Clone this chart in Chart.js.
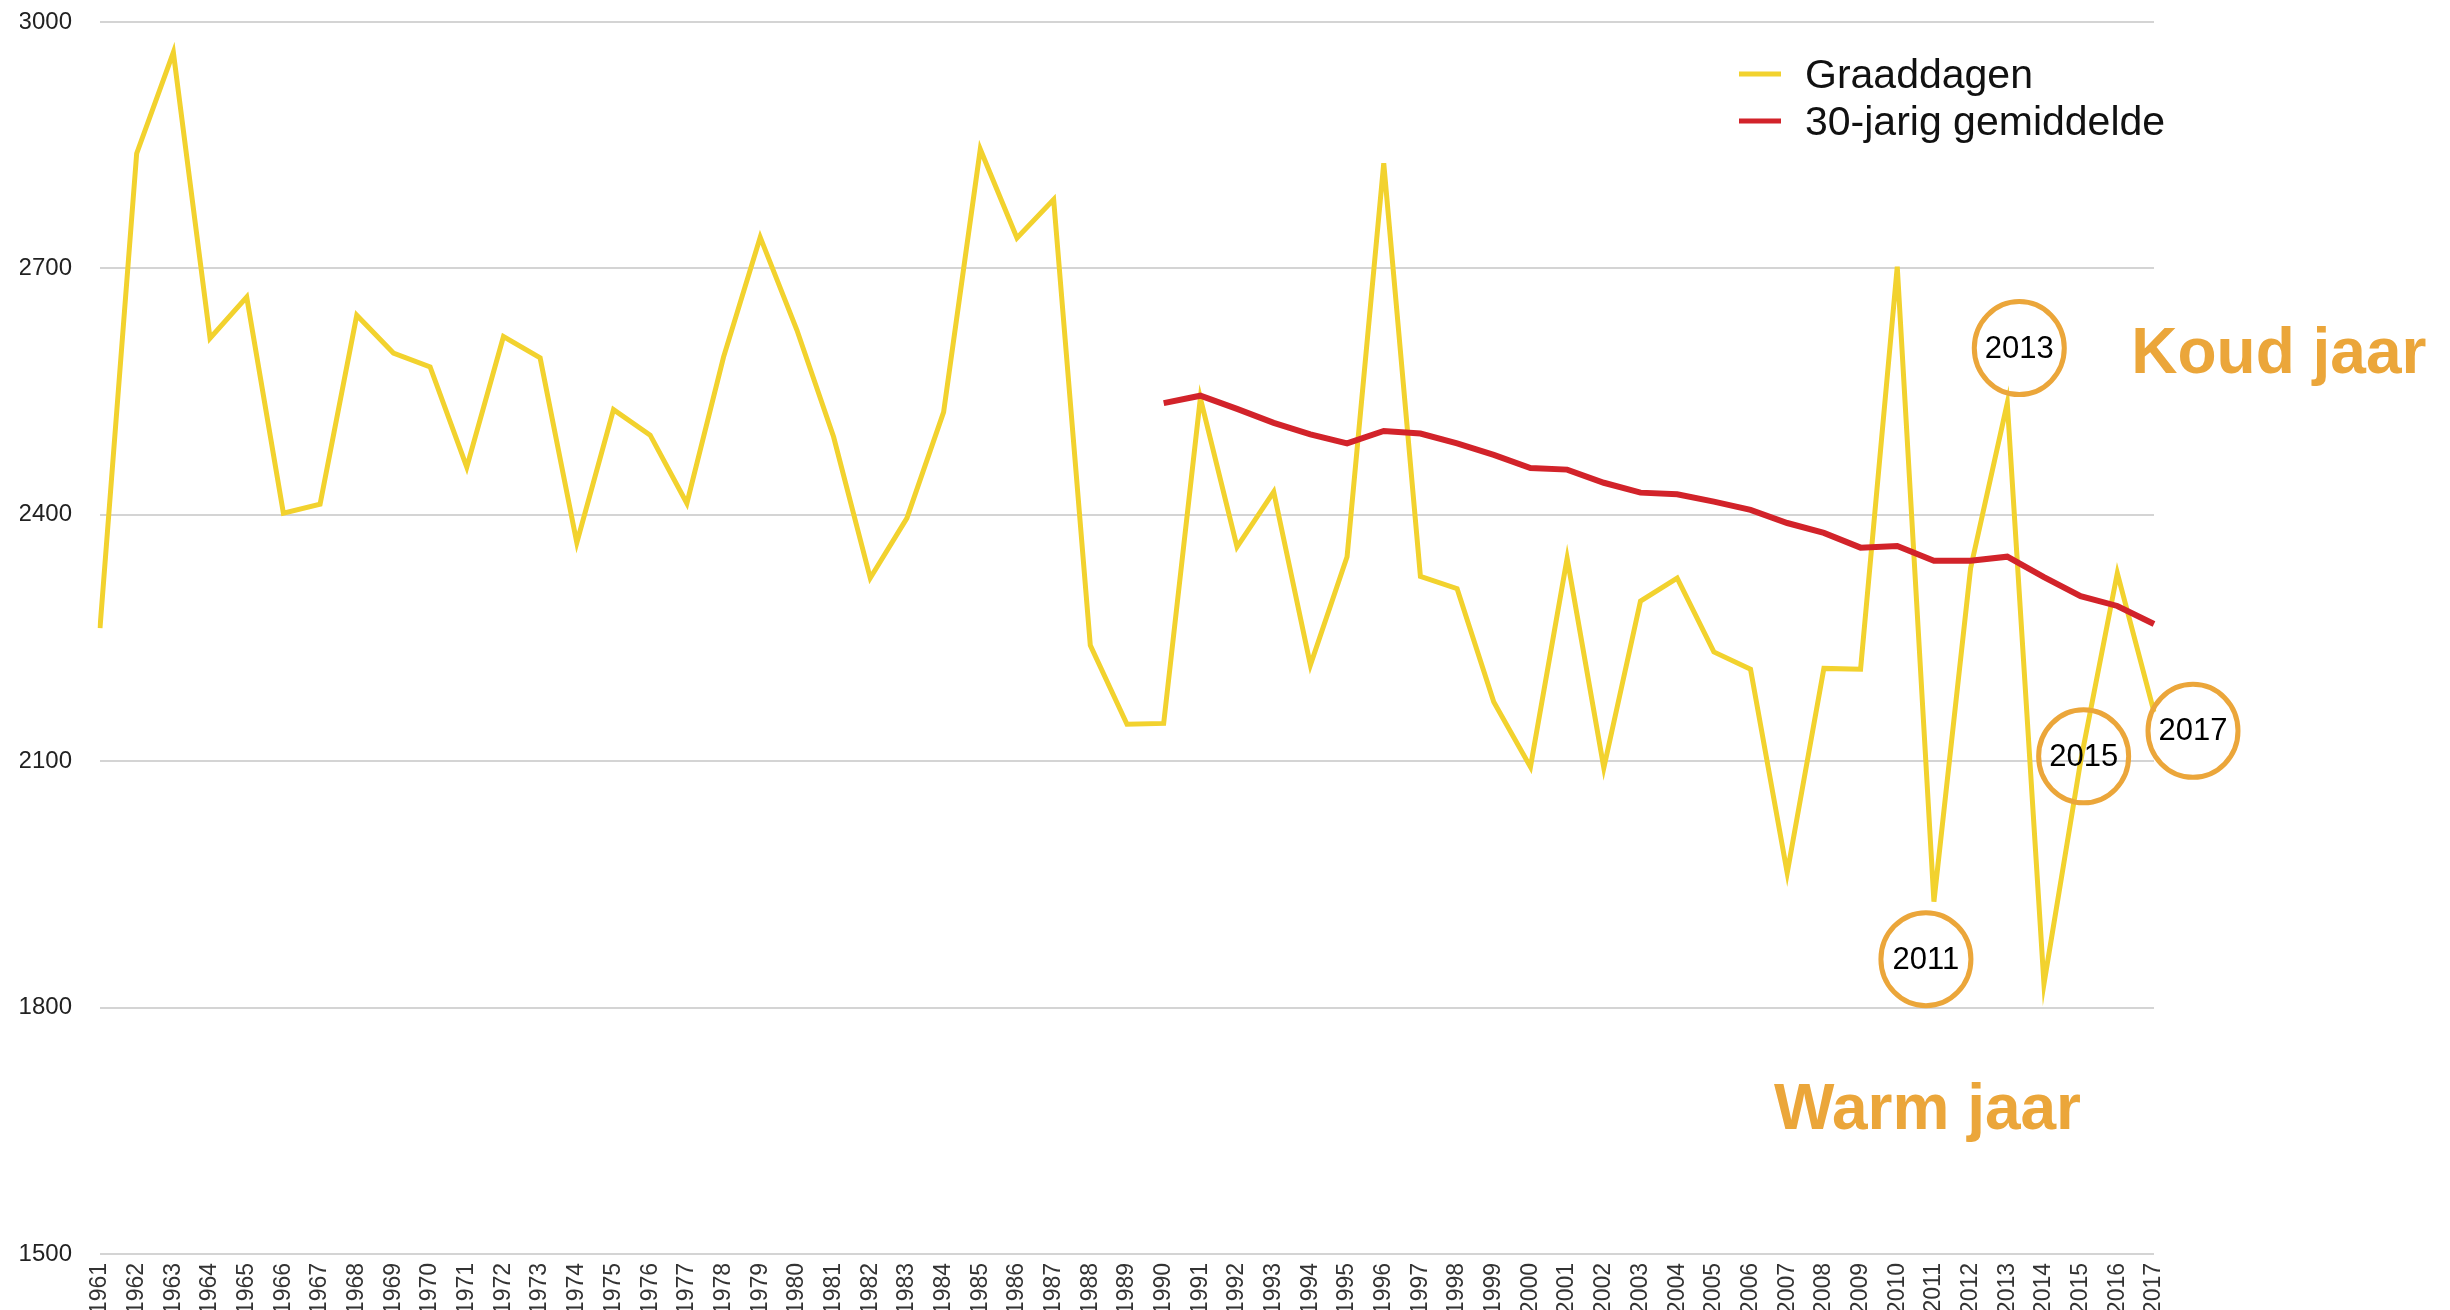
<!DOCTYPE html>
<html><head><meta charset="utf-8">
<script src="https://cdn.jsdelivr.net/npm/chart.js@4.4.1/dist/chart.umd.min.js"></script>
<style>html,body{margin:0;padding:0;background:#fff;overflow:hidden;width:2450px;height:1310px}canvas{display:block}</style>
</head><body><canvas id="c" width="2450" height="1316"></canvas>
<script>
const years = ['1961','1962','1963','1964','1965','1966','1967','1968','1969','1970',
  '1971','1972','1973','1974','1975','1976','1977','1978','1979','1980',
  '1981','1982','1983','1984','1985','1986','1987','1988','1989','1990',
  '1991','1992','1993','1994','1995','1996','1997','1998','1999','2000',
  '2001','2002','2003','2004','2005','2006','2007','2008','2009','2010',
  '2011','2012','2013','2014','2015','2016','2017'];
const graaddagen = [2262,2840,2963,2615,2665,2402,2413,2643,2597,2580,
  2458,2617,2591,2366,2528,2497,2414,2592,2738,2625,
  2495,2323,2396,2525,2845,2737,2784,2241,2145,2146,
  2542,2361,2428,2217,2349,2828,2325,2310,2172,2093,
  2347,2092,2295,2323,2233,2212,1964,2213,2212,2702,
  1929,2335,2536,1829,2100,2329,2160];
const gemiddelde30 = [null,null,null,null,null,null,null,null,null,null,
  null,null,null,null,null,null,null,null,null,null,
  null,null,null,null,null,null,null,null,null,2536,
  2545,2529,2512,2498,2487,2502,2499,2487,2473,2457,
  2455,2439,2427,2425,2416,2406,2390,2378,2360,2362,
  2344,2344,2349,2324,2301,2289,2267];
const yTicks = [1500,1800,2100,2400,2700,3000];
const seriesNames = ['Graaddagen','30-jarig gemiddelde'];
const highlightedYears = ['2011','2013','2015','2017'];
const coldLabel = 'Koud jaar';
const warmLabel = 'Warm jaar';

const ORANGE = '#EBA63A';
const FONT = '"Liberation Sans", Arial, sans-serif';

const annotationPlugin = {
  id: 'annot',
  afterDatasetsDraw(chart) {
    const ctx = chart.ctx, xs = chart.scales.x, ys = chart.scales.y;
    const place = {'2011':[-8,1859],'2013':[12,2603],'2015':[3,2106],'2017':[39,2137]};
    ctx.save();
    highlightedYears.forEach(yr => {
      const p = place[yr];
      const cx = xs.getPixelForValue(years.indexOf(yr)) + p[0];
      const cy = ys.getPixelForValue(p[1]);
      ctx.beginPath();
      ctx.ellipse(cx, cy, 45, 46.5, 0, 0, Math.PI*2);
      ctx.lineWidth = 5;
      ctx.strokeStyle = ORANGE;
      ctx.stroke();
      ctx.fillStyle = '#000';
      ctx.font = '31px ' + FONT;
      ctx.textAlign = 'center';
      ctx.textBaseline = 'middle';
      ctx.fillText(yr, cx, cy + 1);
    });
    ctx.fillStyle = ORANGE;
    ctx.font = 'bold 64px ' + FONT;
    ctx.textAlign = 'left';
    ctx.textBaseline = 'alphabetic';
    ctx.fillText(coldLabel, xs.getPixelForValue(years.indexOf('2013')) + 124, ys.getPixelForValue(2573));
    ctx.fillText(warmLabel, xs.getPixelForValue(years.indexOf('2011')) - 160, ys.getPixelForValue(1652));
    ctx.restore();
  }
};

const legendPlugin = {
  id: 'customLegend',
  afterDraw(chart) {
    const ctx = chart.ctx, a = chart.chartArea;
    ctx.save();
    chart.data.datasets.forEach((ds, i) => {
      const y = a.top + 52 + i * 47;
      ctx.beginPath();
      ctx.moveTo(a.right - 415, y);
      ctx.lineTo(a.right - 373, y);
      ctx.lineWidth = 5;
      ctx.strokeStyle = ds.borderColor;
      ctx.stroke();
      ctx.fillStyle = '#111';
      ctx.font = '41px ' + FONT;
      ctx.textAlign = 'left';
      ctx.textBaseline = 'alphabetic';
      ctx.fillText(ds.label, a.right - 349, y + 14);
    });
    ctx.restore();
  }
};

new Chart(document.getElementById('c'), {
  type: 'line',
  data: {
    labels: years,
    datasets: [
      { label: seriesNames[0], data: graaddagen, borderColor: '#F2D22E', borderWidth: 5,
        pointRadius: 0, tension: 0, borderJoinStyle: 'miter', order: 2 },
      { label: seriesNames[1], data: gemiddelde30, borderColor: '#D2232A', borderWidth: 6,
        pointRadius: 0, tension: 0, borderJoinStyle: 'miter', order: 1, spanGaps: false }
    ]
  },
  options: {
    responsive: false,
    animation: false,
    layout: { padding: { left: 20, right: 296, top: 22, bottom: 0 } },
    plugins: { legend: { display: false }, tooltip: { enabled: false } },
    scales: {
      x: {
        offset: false,
        grid: { display: false, drawTicks: false },
        border: { display: false },
        ticks: { autoSkip: false, maxRotation: 90, minRotation: 90, padding: 9,
          color: '#333', font: { family: FONT, size: 23 } },
        afterFit: (s) => { s.height = 62; s.paddingLeft = 0; s.paddingRight = 0; }
      },
      y: {
        min: yTicks[0], max: yTicks[yTicks.length - 1],
        afterBuildTicks: (s) => { s.ticks = yTicks.map(v => ({ value: v })); },
        grid: { color: '#d4d4d4', lineWidth: 2, drawTicks: false },
        border: { display: false },
        ticks: { padding: 28, color: '#222', font: { family: FONT, size: 24 },
          callback: (v) => String(v) },
        afterFit: (s) => { s.width = 80; s.paddingTop = 0; s.paddingBottom = 0; }
      }
    }
  },
  plugins: [annotationPlugin, legendPlugin]
});
</script>
</body></html>
